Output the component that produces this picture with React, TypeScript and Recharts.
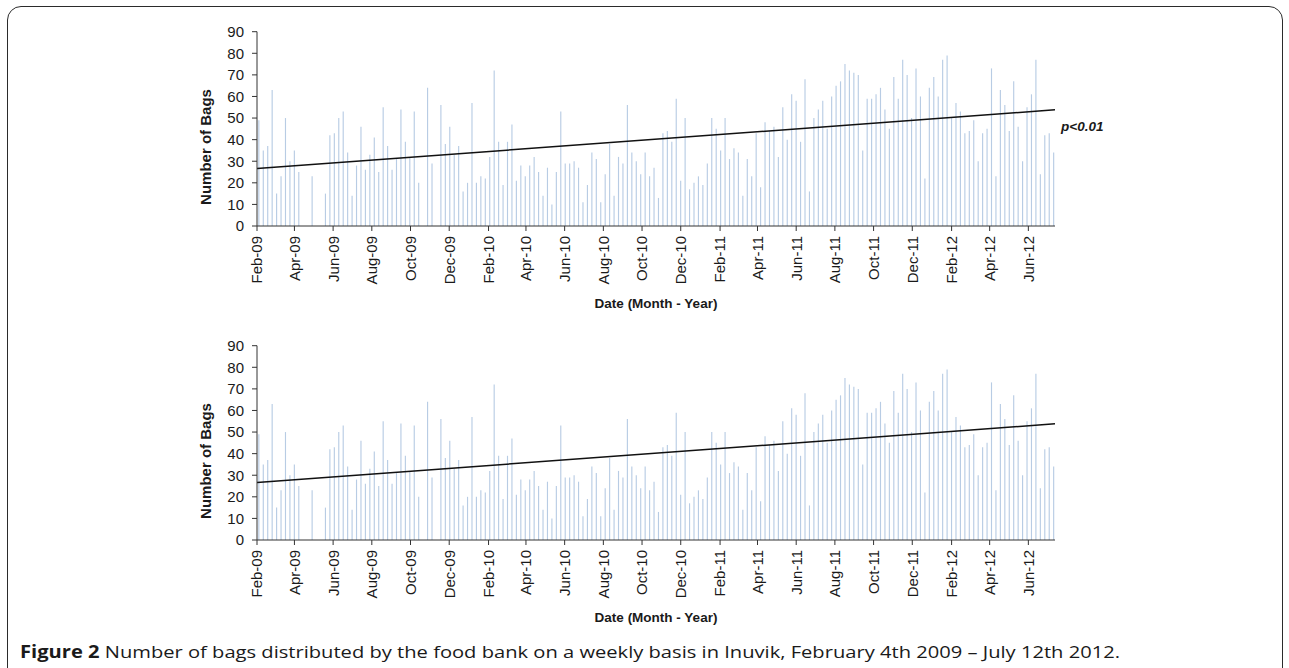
import { ComposedChart, Bar, Line, XAxis, YAxis } from 'recharts'

// weekly distributions, first week = Feb 4 2009
const weekStart = Date.UTC(2009, 1, 4)
const axisStart = Date.UTC(2009, 1, 1)
const axisEnd = Date.UTC(2012, 6, 13)
const DAY = 86400000

const weeklyBags = [
  49, 35, 37, 63, 15, 23, 50, 30, 35, 25, 0, 0, 23, 0, 0, 15, 42, 43, 50, 53, 34, 14, 28, 46, 26, 33, 41, 25, 55, 37, 26, 31,
  54, 39, 32, 53, 20, 0, 64, 29, 0, 56, 38, 46, 33, 37, 16, 20, 57, 20, 23, 22, 32, 72, 39, 19, 39, 47, 21, 28, 23, 28, 32, 25, 14,
  27, 10, 25, 53, 29, 29, 30, 27, 11, 19, 34, 31, 11, 24, 38, 14, 32, 29, 56, 34, 30, 24, 34, 23, 27, 13, 43, 44, 39, 59, 21, 50,
  17, 20, 23, 19, 29, 50, 45, 35, 50, 31, 36, 34, 14, 31, 23, 43, 18, 48, 44, 46, 32, 55, 40, 61, 58, 39, 68, 16, 50, 54, 58, 45, 60,
  65, 67, 75, 72, 71, 70, 35, 59, 59, 61, 64, 54, 45, 69, 59, 77, 70, 50, 73, 60, 22, 64, 69, 60, 77, 79, 50, 57, 53, 43, 44, 49, 30,
  43, 45, 73, 23, 63, 56, 44, 67, 46, 30, 55, 61, 77, 24, 42, 43, 34,
]

const tickLabels = [
  'Feb-09', 'Apr-09', 'Jun-09', 'Aug-09', 'Oct-09', 'Dec-09',
  'Feb-10', 'Apr-10', 'Jun-10', 'Aug-10', 'Oct-10', 'Dec-10',
  'Feb-11', 'Apr-11', 'Jun-11', 'Aug-11', 'Oct-11', 'Dec-11',
  'Feb-12', 'Apr-12', 'Jun-12',
]

const yTicks = [0, 10, 20, 30, 40, 50, 60, 70, 80, 90]

// linear trend, read at both ends of the axis
const trendStart = 26.6
const trendEnd = 53.8

const MONTHS = ['Jan', 'Feb', 'Mar', 'Apr', 'May', 'Jun', 'Jul', 'Aug', 'Sep', 'Oct', 'Nov', 'Dec']
const toDay = (t: number) => Math.round((t - axisStart) / DAY)
const endDay = toDay(axisEnd)

const tickDays = tickLabels.map((l) => {
  const [m, y] = l.split('-')
  return toDay(Date.UTC(2000 + Number(y), MONTHS.indexOf(m), 1))
})
const labelByDay: Record<number, string> = {}
tickDays.forEach((d, i) => (labelByDay[d] = tickLabels[i]))

const chartData: Array<{ day: number; bags?: number; trend?: number }> = [
  { day: 0, trend: trendStart },
  ...weeklyBags.map((v, i) => ({ day: toDay(weekStart) + 7 * i, bags: v })),
  { day: endDay, trend: trendEnd },
]

const font = '"Liberation Sans", Arial, Helvetica, sans-serif'
const ink = '#1a1a1a'

function DateTick({ x, y, payload }: any) {
  return (
    <g transform={`translate(${x},${y})`}>
      <text transform="rotate(-90)" textAnchor="end" dy="0.36em" fontSize={15} fill={ink} fontFamily={font}>
        {labelByDay[payload.value] ?? ''}
      </text>
    </g>
  )
}

function Panel({ top, showP }: { top: number; showP?: boolean }) {
  return (
    <div style={{ position: 'absolute', left: 0, top, width: 1289, height: 300 }}>
      <ComposedChart
        width={1289}
        height={300}
        data={chartData}
        margin={{ top: 31.7, right: 234, bottom: 14, left: 197 }}
        style={{ fontFamily: font }}
      >
        <XAxis
          dataKey="day"
          type="number"
          domain={[0, endDay]}
          allowDataOverflow
          ticks={tickDays}
          interval={0}
          height={60}
          tickSize={5}
          tickMargin={5}
          stroke="#333"
          tick={<DateTick />}
        />
        <YAxis
          domain={[0, 90]}
          ticks={yTicks}
          interval={0}
          width={60}
          tickSize={5}
          tickMargin={8}
          stroke="#333"
          tick={{ fontSize: 15, fill: ink }}
        />
        <Bar dataKey="bags" fill="#b8cce4" barSize={1.5} isAnimationActive={false} />
        <Line
          dataKey="trend"
          stroke="#111"
          strokeWidth={1.5}
          dot={false}
          activeDot={false}
          connectNulls
          isAnimationActive={false}
        />
      </ComposedChart>
      <div
        style={{
          position: 'absolute', left: 205, top: 146.8,
          transform: 'translate(-50%, -50%) rotate(-90deg)',
          whiteSpace: 'nowrap', font: `bold 15px ${font}`, color: ink,
        }}
      >
        Number of Bags
      </div>
      <div
        style={{
          position: 'absolute', left: 656, top: 303,
          transform: 'translate(-50%, -50%)',
          whiteSpace: 'nowrap', font: `bold 13.5px ${font}`, color: ink,
        }}
      >
        Date (Month - Year)
      </div>
      {showP && (
        <div
          style={{
            position: 'absolute', left: 1061, top: 126,
            transform: 'translateY(-50%)',
            whiteSpace: 'nowrap', font: `italic bold 13.5px ${font}`, color: ink,
          }}
        >
          p&lt;0.01
        </div>
      )}
    </div>
  )
}

export default function App() {
  return (
    <div style={{ position: 'absolute', left: 0, top: 0, width: 1289, height: 668, overflow: 'hidden', background: '#fff' }}>
      <div
        style={{
          position: 'absolute', left: 7, top: 6, width: 1276, height: 720,
          border: '1.5px solid #2b2b2b', borderRadius: 14, boxSizing: 'border-box',
        }}
      />
      <Panel top={0} showP />
      <Panel top={314} />
      <svg style={{ position: 'absolute', left: 0, top: 636 }} width={1289} height={30}>
        <text
          x={20}
          y={22}
          textLength={1100}
          lengthAdjust="spacingAndGlyphs"
          fontSize={17}
          fill={ink}
          fontFamily='"Liberation Sans Narrow", "Open Sans", sans-serif'
        >
          <tspan fontWeight="bold">Figure 2</tspan> Number of bags distributed by the food bank on a weekly basis in Inuvik, February 4th 2009 – July 12th 2012.
        </text>
      </svg>
    </div>
  )
}
